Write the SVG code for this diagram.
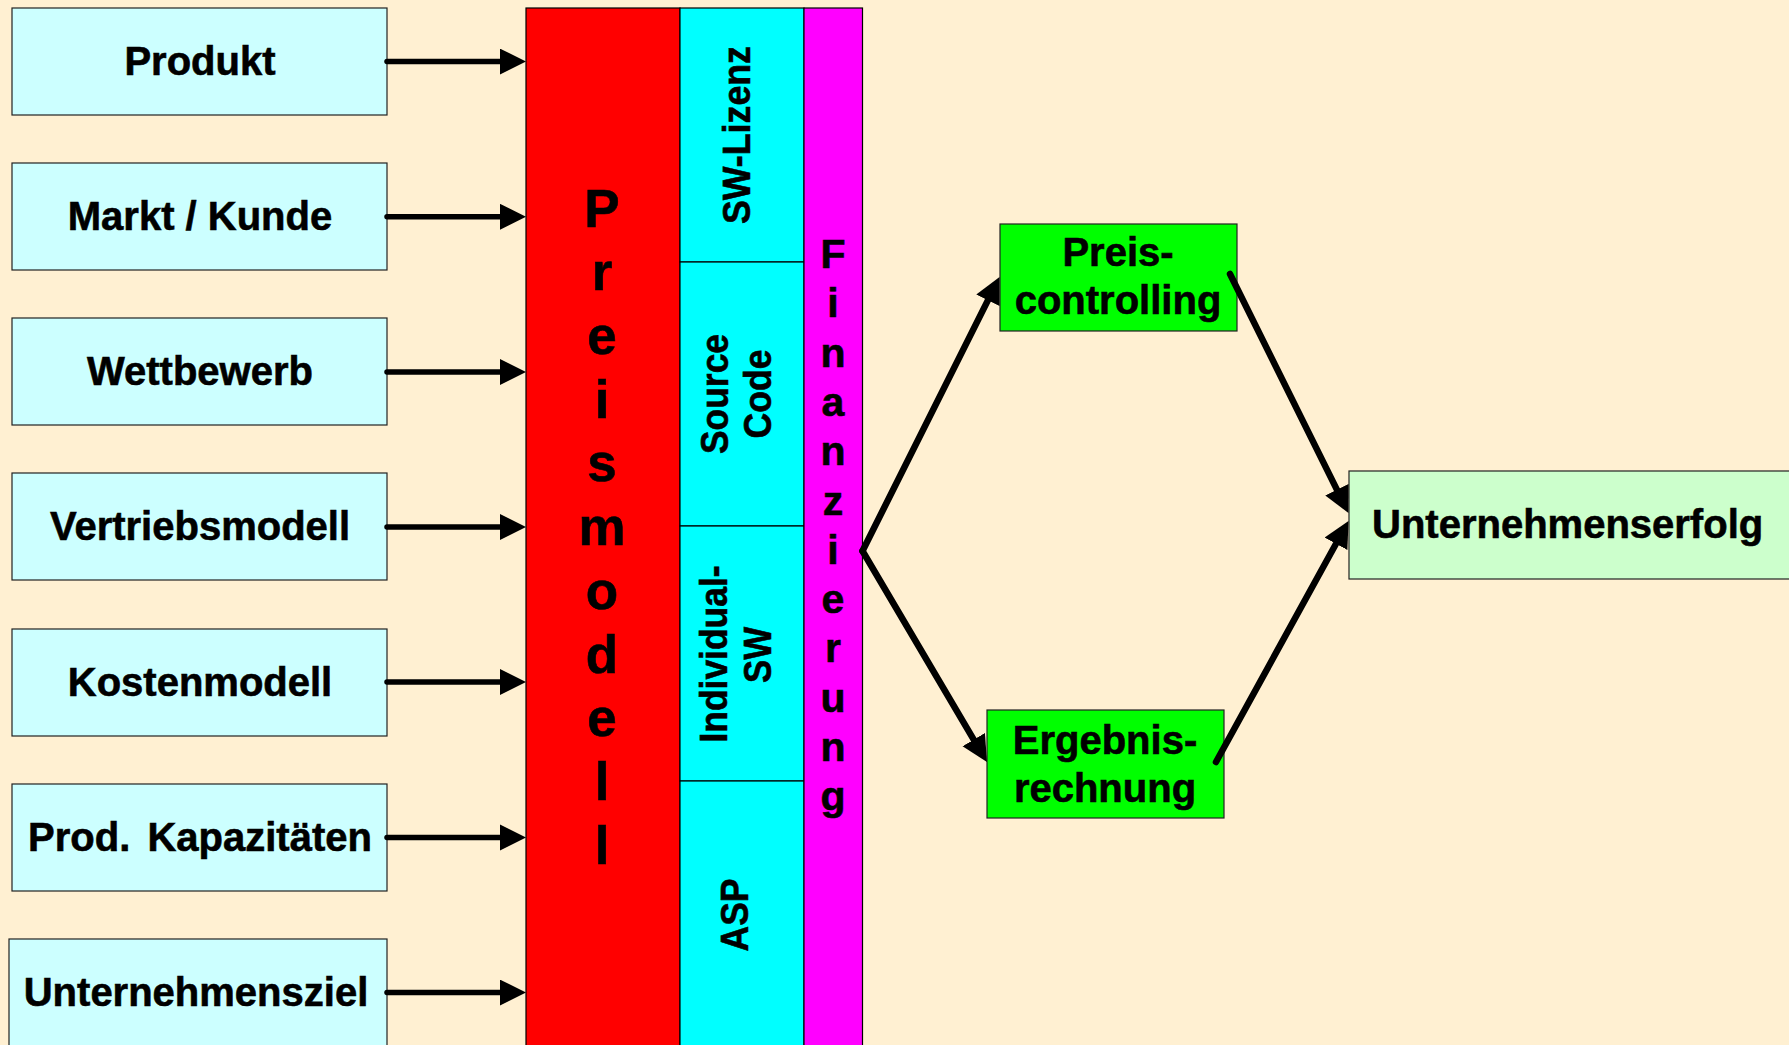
<svg xmlns="http://www.w3.org/2000/svg" width="1789" height="1045" viewBox="0 0 1789 1045">
<style>
.bg{fill:#FFF0D2}
.in{fill:#CCFFFF;stroke:#222;stroke-width:1.2}
.t{font-family:"Liberation Sans",Arial,sans-serif;font-weight:bold;fill:#000;stroke:#000;stroke-width:0.6}
.t40{font-size:40px;text-anchor:middle}
.col{stroke:#000;stroke-width:1.2}
.rot{font-size:38px;text-anchor:middle}
.cn{stroke:#000;stroke-width:5.5;fill:none;stroke-linecap:round}
.cd{stroke:#000;stroke-width:6.5;fill:none;stroke-linecap:round}
</style>
<defs>
<marker id="ah" markerUnits="userSpaceOnUse" markerWidth="28" markerHeight="28" refX="6" refY="13" orient="auto">
<path d="M0,0 L26,13 L0,26 z" fill="#000"/>
</marker>
</defs>
<rect class="bg" x="0" y="0" width="1789" height="1045"/>

<g id="produkt"><rect class="in" x="12" y="8" width="375" height="107"/><text class="t t40" x="200" y="75">Produkt</text></g>
<g id="markt"><rect class="in" x="12" y="163" width="375" height="107"/><text class="t t40" x="200" y="230">Markt / Kunde</text></g>
<g id="wettbewerb"><rect class="in" x="12" y="318" width="375" height="107"/><text class="t t40" x="200" y="385">Wettbewerb</text></g>
<g id="vertriebsmodell"><rect class="in" x="12" y="473" width="375" height="107"/><text class="t t40" x="200" y="540">Vertriebsmodell</text></g>
<g id="kostenmodell"><rect class="in" x="12" y="629" width="375" height="107"/><text class="t t40" x="200" y="696">Kostenmodell</text></g>
<g id="kapazitaeten"><rect class="in" x="12" y="784" width="375" height="107"/><text class="t t40" x="200" y="851" word-spacing="6">Prod. Kapazitäten</text></g>
<g id="unternehmensziel"><rect class="in" x="9" y="939" width="378" height="115"/><text class="t t40" x="196" y="1006">Unternehmensziel</text></g>

<g id="preismodell">
<rect x="526" y="8" width="154" height="1050" fill="#FF0000" class="col"/>
<text class="t" font-size="53" text-anchor="middle">
<tspan x="602" y="226.6">P</tspan><tspan x="602" y="290.3">r</tspan><tspan x="602" y="354">e</tspan><tspan x="602" y="417.7">i</tspan><tspan x="602" y="481.4">s</tspan><tspan x="602" y="545.1">m</tspan><tspan x="602" y="608.8">o</tspan><tspan x="602" y="672.5">d</tspan><tspan x="602" y="736.2">e</tspan><tspan x="602" y="799.9">l</tspan><tspan x="602" y="863.6">l</tspan>
</text>
</g>

<g id="sw-lizenz"><rect x="680" y="8" width="124" height="254" fill="#00FFFF" class="col"/><text class="t rot" transform="translate(750,135) rotate(-90)" textLength="178" lengthAdjust="spacingAndGlyphs">SW-Lizenz</text></g>
<g id="source-code"><rect x="680" y="262" width="124" height="264" fill="#00FFFF" class="col"/><text class="t rot" transform="translate(728,394) rotate(-90)" textLength="120" lengthAdjust="spacingAndGlyphs">Source</text><text class="t rot" transform="translate(771,394) rotate(-90)" textLength="89" lengthAdjust="spacingAndGlyphs">Code</text></g>
<g id="individual-sw"><rect x="680" y="526" width="124" height="255" fill="#00FFFF" class="col"/><text class="t rot" transform="translate(727,654) rotate(-90)" textLength="177" lengthAdjust="spacingAndGlyphs">Individual-</text><text class="t rot" transform="translate(771,655) rotate(-90)" textLength="56" lengthAdjust="spacingAndGlyphs">SW</text></g>
<g id="asp"><rect x="680" y="781" width="124" height="280" fill="#00FFFF" class="col"/><text class="t rot" transform="translate(748,915) rotate(-90)" textLength="73" lengthAdjust="spacingAndGlyphs">ASP</text></g>

<g id="finanzierung">
<rect x="804" y="8" width="58.5" height="1050" fill="#FF00FF" class="col"/>
<text class="t" font-size="41" text-anchor="middle">
<tspan x="833" y="268">F</tspan><tspan x="833" y="317.3">i</tspan><tspan x="833" y="366.6">n</tspan><tspan x="833" y="415.9">a</tspan><tspan x="833" y="465.2">n</tspan><tspan x="833" y="514.5">z</tspan><tspan x="833" y="563.8">i</tspan><tspan x="833" y="613.1">e</tspan><tspan x="833" y="662.4">r</tspan><tspan x="833" y="711.7">u</tspan><tspan x="833" y="761">n</tspan><tspan x="833" y="810.3">g</tspan>
</text>
</g>

<g id="preiscontrolling"><rect x="1000" y="224" width="237" height="107" fill="#00FF00" stroke="#222" stroke-width="1.2"/><text class="t t40" x="1118"><tspan x="1118" y="266">Preis-</tspan><tspan x="1118" y="314">controlling</tspan></text></g>
<g id="ergebnisrechnung"><rect x="987" y="710" width="237" height="108" fill="#00FF00" stroke="#222" stroke-width="1.2"/><text class="t t40" x="1105"><tspan x="1105" y="754">Ergebnis-</tspan><tspan x="1105" y="802">rechnung</tspan></text></g>
<g id="unternehmenserfolg"><rect x="1349" y="471" width="460" height="108" fill="#CCFFCC" stroke="#222" stroke-width="1.2"/><text class="t" font-size="40" x="1372" y="538">Unternehmenserfolg</text></g>

<g id="connectors">
<line class="cn" x1="387" y1="61.6" x2="506" y2="61.6" marker-end="url(#ah)"/>
<line class="cn" x1="387" y1="216.8" x2="506" y2="216.8" marker-end="url(#ah)"/>
<line class="cn" x1="387" y1="372" x2="506" y2="372" marker-end="url(#ah)"/>
<line class="cn" x1="387" y1="527" x2="506" y2="527" marker-end="url(#ah)"/>
<line class="cn" x1="387" y1="682" x2="506" y2="682" marker-end="url(#ah)"/>
<line class="cn" x1="387" y1="837.4" x2="506" y2="837.4" marker-end="url(#ah)"/>
<line class="cn" x1="387" y1="992.6" x2="506" y2="992.6" marker-end="url(#ah)"/>
<line class="cd" x1="862.5" y1="551" x2="990.6" y2="294.9" marker-end="url(#ah)"/>
<line class="cd" x1="862.5" y1="551" x2="976.8" y2="744.8" marker-end="url(#ah)"/>
<line class="cd" x1="1230" y1="274" x2="1339.6" y2="495.1" marker-end="url(#ah)"/>
<line class="cd" x1="1216" y1="762" x2="1338.9" y2="538.5" marker-end="url(#ah)"/>
</g>
</svg>
